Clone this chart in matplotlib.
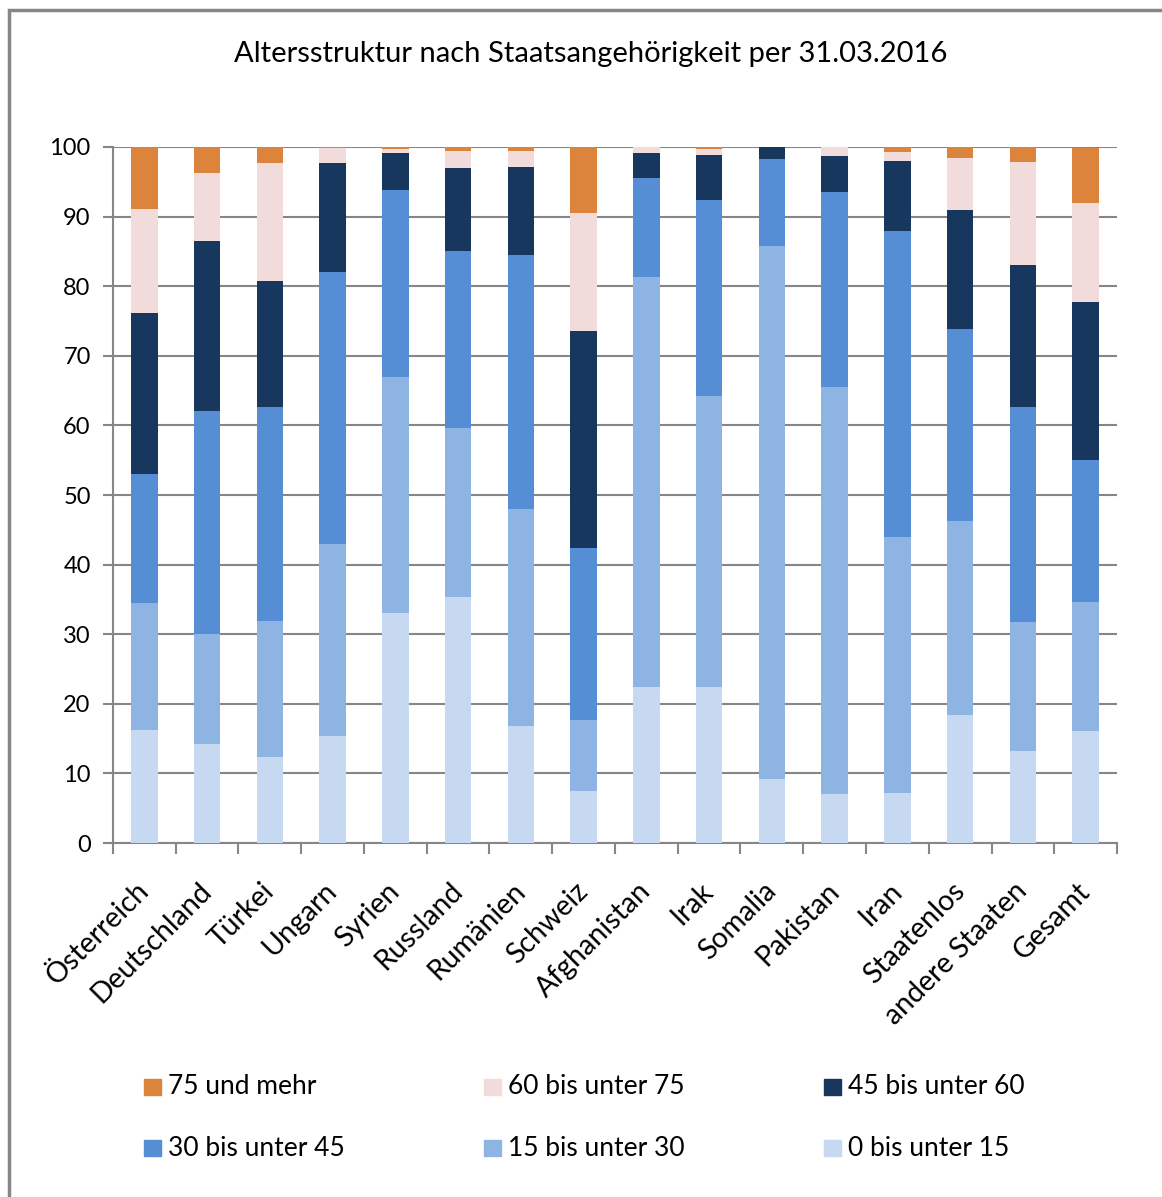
import matplotlib
matplotlib.use("Agg")
import matplotlib.pyplot as plt
import matplotlib.transforms as mtransforms
import numpy as np
from matplotlib.patches import Rectangle

plt.rcParams['font.family'] = ['Lato', 'DejaVu Sans']

countries = ["Österreich", "Deutschland", "Türkei", "Ungarn", "Syrien", "Russland",
             "Rumänien", "Schweiz", "Afghanistan", "Irak", "Somalia", "Pakistan",
             "Iran", "Staatenlos", "andere Staaten", "Gesamt"]

age_groups = ["0 bis unter 15", "15 bis unter 30", "30 bis unter 45",
              "45 bis unter 60", "60 bis unter 75", "75 und mehr"]

# shares in percent, one list per age group (same order as countries)
age_0_15 = [16.2, 14.2, 12.4, 15.4, 33.0, 35.3, 16.8, 7.5, 22.4, 22.4, 9.2, 7.0, 7.2, 18.4, 13.2, 16.1]
age_15_30 = [18.3, 15.8, 19.5, 27.6, 34.0, 24.3, 31.2, 10.2, 58.9, 41.8, 76.6, 58.5, 36.8, 27.9, 18.5, 18.5]
age_30_45 = [18.5, 32.1, 30.7, 39.0, 26.8, 25.5, 36.5, 24.7, 14.2, 28.2, 12.5, 28.0, 43.9, 27.6, 30.9, 20.5]
age_45_60 = [23.1, 24.4, 18.1, 15.7, 5.3, 11.9, 12.6, 31.2, 3.6, 6.5, 1.7, 5.2, 10.1, 17.0, 20.5, 22.6]
age_60_75 = [15.0, 9.8, 17.0, 2.2, 0.6, 2.4, 2.3, 16.9, 0.9, 0.8, 0.0, 1.3, 1.3, 7.5, 14.7, 14.2]
age_75_up = [8.9, 3.7, 2.3, 0.1, 0.3, 0.6, 0.6, 9.5, 0.0, 0.3, 0.0, 0.0, 0.7, 1.7, 2.2, 8.0]

colors = ["#C6D9F1", "#8EB4E3", "#558ED5", "#17375E", "#F2DCDB", "#DD843C"]
series = [age_0_15, age_15_30, age_30_45, age_45_60, age_60_75, age_75_up]

fig = plt.figure(figsize=(11.62, 11.97), dpi=100)
ax = fig.add_axes([0.0972, 0.2957, 0.8641, 0.5815])

x = np.arange(len(countries))
bottom = np.zeros(len(countries))
for vals, col, lab in zip(series, colors, age_groups):
    ax.bar(x, vals, width=0.42, bottom=bottom, color=col, label=lab, zorder=3)
    bottom += np.array(vals)

grid_col = "#868686"
ax.set_xlim(-0.5, len(countries) - 0.5)
ax.set_ylim(0, 100)
ax.set_yticks(np.arange(0, 101, 10))
ax.yaxis.grid(True, color=grid_col, linewidth=1.5, zorder=0)
ax.set_axisbelow(True)
for s in ["top", "right"]:
    ax.spines[s].set_visible(False)
for s in ["left", "bottom"]:
    ax.spines[s].set_color(grid_col)
    ax.spines[s].set_linewidth(1.5)

ax.tick_params(axis="y", length=7, width=1.5, color=grid_col, labelsize=17, pad=9)
ax.set_xticks(x)
ax.set_xticklabels(countries, rotation=45, ha="right", va="top",
                   rotation_mode="anchor", fontsize=20.5)
ax.tick_params(axis="x", which="major", length=0, pad=25)
ax.set_xticks(np.arange(-0.5, len(countries), 1), minor=True)
ax.tick_params(axis="x", which="minor", length=8, width=1.5, color=grid_col)
# nudge the rotated labels a little to the left, like Excel does
shift = mtransforms.ScaledTranslation(-9 / 100, 0, fig.dpi_scale_trans)
for lbl in ax.get_xticklabels():
    lbl.set_transform(lbl.get_transform() + shift)

fig.text(0.5086, 0.955, "Altersstruktur nach Staatsangehörigkeit per 31.03.2016",
         ha="center", va="center", fontsize=21)

# legend, laid out like the original (3 columns, 2 rows)
legend_order = [5, 4, 3, 2, 1, 0]
for i, k in enumerate(legend_order):
    col, row = i % 3, i // 3
    lx = (152.5 + col * 340) / 1162
    ly = 1 - (1087 + row * 61) / 1197
    fig.patches.append(Rectangle((lx - 0.0073, ly - 0.0071), 0.0146, 0.0142,
                                 transform=fig.transFigure, color=colors[k]))
    fig.text(lx + 0.0135, ly, age_groups[k], ha="left", va="center", fontsize=19)

# chart border
fig.patches.append(Rectangle((9 / 1162, -0.1), 1.2, 1 - 10 / 1197 + 0.1,
                             transform=fig.transFigure, fill=False,
                             edgecolor=grid_col, linewidth=2.5))

fig.savefig("out.png", dpi=100)
